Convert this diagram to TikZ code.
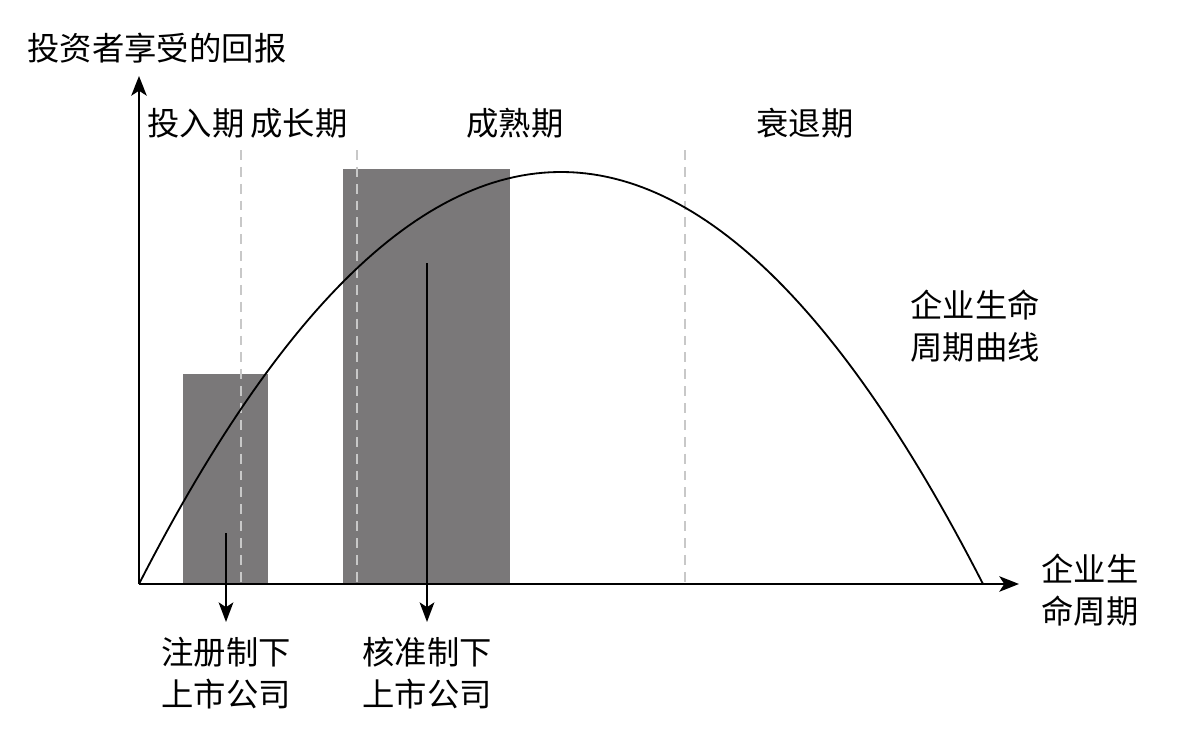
\documentclass[tikz,border=0pt]{standalone}
\usepackage{fontspec}
\newfontfamily\cjk{Noto Sans CJK SC}
\usetikzlibrary{arrows.meta}
\definecolor{bargray}{HTML}{7A7879}
\definecolor{dashgray}{HTML}{C8C8C8}
\begin{document}
\begin{tikzpicture}[x=0.025cm, y=-0.025cm,
    every node/.style={font=\cjk\fontsize{23}{30}\selectfont, align=center, inner sep=0pt},
    axis/.style={line width=1.5pt, -{Stealth[length=14pt, width=11pt, inset=3.5pt]}},
    pointer/.style={line width=1.3pt, -{Stealth[length=14pt, width=10.5pt, inset=3.5pt]}},
    bar/.style={fill=bargray, draw=none},
    phase/.style={dashgray, line width=1.4pt, dash pattern=on 7pt off 5pt}]
    \useasboundingbox (0,0) rectangle (1186,730);
    % bars
    \fill[bar] (183,374) rectangle (268,584);
    \fill[bar] (343,169) rectangle (510,584);
    % phase borders
    \foreach \x in {241,357,685} {
        \draw[phase] (\x,150) -- (\x,584);
    }
    % axes
    \coordinate (o) at (139,584);
    \coordinate (ytip) at (139,76);
    \coordinate (xtip) at (1019,584);
    \draw[axis] (o) -- (ytip);
    \draw[axis] (o) -- (xtip);
    % life cycle curve
    \draw[line width=1.3pt] plot[domain=139:983, samples=120] (\x, {584-412*(1-((\x-561)/422)^2)});
    % pointers
    \coordinate (p1) at (226,533);
    \coordinate (q1) at (226,622);
    \coordinate (p2) at (427,263);
    \coordinate (q2) at (427,622);
    \draw[pointer] (p1) -- (q1);
    \draw[pointer] (p2) -- (q2);
    % labels
    \node (ylab) at (157,48) {投资者享受的回报};
    \node (intro) at (196,123) {投入期};
    \node (growth) at (299,123) {成长期};
    \node (mature) at (515,123) {成熟期};
    \node (decline) at (805,123) {衰退期};
    \node (curvelab) at (975,326) {企业生命\\周期曲线};
    \node (xlab) at (1090,590) {企业生\\命周期};
    \node (reg) at (226,673) {注册制下\\上市公司};
    \node (appr) at (427,673) {核准制下\\上市公司};
\end{tikzpicture}
\end{document}
